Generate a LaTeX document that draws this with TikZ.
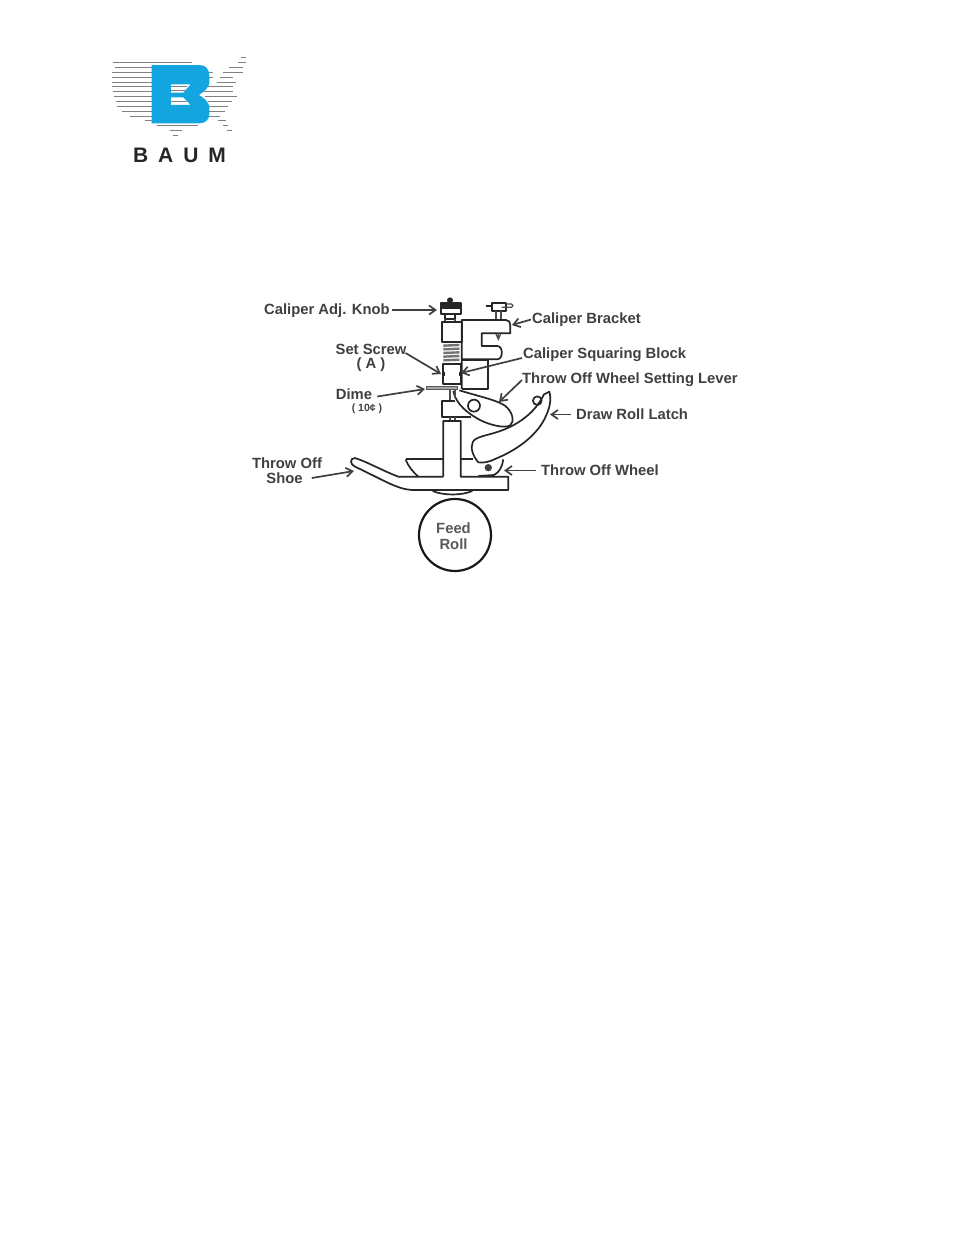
\documentclass[tikz,border=0pt]{standalone}
\usepackage{fontspec}
\setmainfont{Liberation Sans}
\usetikzlibrary{arrows.meta}
\definecolor{labelgray}{HTML}{404040}
\definecolor{baumblue}{HTML}{12A5E0}
\tikzset{
  lbl/.style={inner sep=0pt,text height=10.7pt,text depth=0pt,font=\fontsize{14.8}{16}\selectfont\bfseries,text=labelgray},
  sml/.style={inner sep=0pt,text height=7.6pt,text depth=0pt,font=\fontsize{10.5}{11}\selectfont\bfseries,text=labelgray},
  pointer/.style={draw=labelgray,line width=1.7pt,-{Straight Barb[length=6.5pt,width=9pt,line width=1.7pt]}},
  part/.style={draw=black!85,line width=1.7pt,line join=round},
  thin part/.style={draw=black!70,line width=1.2pt},
  stripe/.style={draw=black!50,line width=1pt},
}
\begin{document}
\begin{tikzpicture}[x=1pt,y=-1pt]
\useasboundingbox[fill=white] (0,0) rectangle (954,1235);
% ---- logo
\begin{scope}[shift={(100,50)},x=.3333pt,y=-.3333pt]
 \foreach \yy/\a/\b in {37/40/275,52/45/155,67/37/155,82/37/155,97/37/155,110/37/155,125/40/155,140/43/155,155/48/155,170/50/155,185/65/155,200/90/155,213/135/155,228/170/295,243/210/245,258/218/235,
  22/423/438,37/415/438,52/388/428,67/370/430,82/360/400,97/350/408,110/315/400,125/300/400,140/315/410,155/325/395,170/328/385,185/328/375,200/328/360,213/355/378,228/370/385,243/380/395,52/300/315,67/320/340,82/328/340}
  \draw[stripe] (\a,\yy) -- (\b,\yy);
 \fill[baumblue,even odd rule] (155,45) -- (298,45) .. controls (318,45) and (328,58) .. (328,78) -- (328,98) .. controls (328,112) and (312,125) .. (297,135) .. controls (312,145) and (328,155) .. (328,172) -- (328,192) .. controls (328,210) and (315,220) .. (298,220) -- (155,220) -- cycle
  (213,103) -- (272,103) -- (250,128) -- (213,128) -- cycle
  (213,142) -- (250,142) -- (272,165) -- (213,165) -- cycle;
 \foreach \yy/\a/\b in {110/213/262,120/213/254,155/213/262}
  \draw[stripe] (\a,\yy) -- (\b,\yy);
\end{scope}
\node[inner sep=0pt,font=\fontsize{21}{22}\selectfont\bfseries,text=black!85] (baum) at (179.5,155.5) {B\hspace{10pt}A\hspace{10pt}U\hspace{10pt}M};
% ---- upper mechanism
\begin{scope}[shift={(400,290)},x=.3333pt,y=-.3333pt]
 \fill[black!85] (150,31) circle (9);
 \draw[part,fill=black!85] (122,38) rectangle (182,50);
 \draw[part] (122,55) rectangle (182,72);
 \draw[part] (122,50) -- (122,55) (182,50) -- (182,55);
 \draw[part] (135,72) rectangle (165,88);
 \draw[thin part] (135,88) -- (135,95) (165,88) -- (165,95);
 \draw[part] (125,95) rectangle (185,155);
 \foreach \yy in {167,178,189,200,211}
  \draw[draw=black!55,line width=2.4pt] (130,\yy) -- (178,\yy-2);
 \draw[part] (128,222) rectangle (183,283);
 \fill[black!85] (128,245) rectangle (135,258);
 \fill[black!85] (178,245) rectangle (184,258);
 \draw[part] (185,297) -- (185,90) -- (318,90) .. controls (327,90) and (331,97) .. (331,106) -- (331,130) -- (245,130) -- (245,168) -- (292,168) .. controls (310,168) and (310,208) .. (292,208) -- (185,208);
 \draw[part] (185,210) -- (265,210) -- (265,297) -- (185,297);
 \draw[thin part] (295,130) -- (295,148) (288,132) -- (295,148) -- (302,132);
 % small top knob
 \draw[part] (275,38) rectangle (318,62);
 \draw[part] (257,47) -- (275,47);
 \draw[thin part] (318,42) -- (335,42) .. controls (340,42) and (340,52) .. (335,52) -- (305,52);
 \draw[thin part] (288,62) -- (288,88) (303,62) -- (303,88);
 % dime
 \draw[draw=black!65,line width=.9pt,fill=black!35] (80,288) rectangle (172,298);
\end{scope}
% ---- lower mechanism
\begin{scope}[shift={(340,385)},x=.3333pt,y=-.3333pt]
 % lever
 \draw[part,fill=white] (340,18) .. controls (345,45) and (365,75) .. (420,105) .. controls (450,120) and (490,130) .. (510,122) .. controls (525,110) and (518,80) .. (495,62) .. controls (470,45) and (420,35) .. (358,16);
 \draw[thin part] (330,15) -- (330,47) (345,15) -- (345,38);
 \draw[part] (345,47) -- (307,47) -- (307,95) -- (392,95);
 \draw[part,fill=white] (402,62) circle (18);
 \draw[thin part] (330,95) -- (330,108) (345,95) -- (345,108);
 % cradle and post
 \draw[part] (197,223) .. controls (205,245) and (220,262) .. (235,275);
 \draw[part] (197,223) -- (310,223) (362,223) -- (400,223);
 \draw[part] (490,223) .. controls (487,245) and (478,262) .. (462,270) -- (415,273);
 \draw[part] (310,275) -- (310,108) -- (362,108) -- (362,275) -- (505,275) -- (505,315) -- (215,315)
   .. controls (170,312) and (130,285) .. (45,245) .. controls (30,238) and (28,220) .. (45,219) .. controls (80,230) and (130,258) .. (175,275) -- (310,275);
 \draw[part] (278,318) .. controls (310,332) and (365,332) .. (397,318);
 % latch
 \draw[part,fill=white] (415,232) .. controls (400,215) and (390,190) .. (398,172) .. controls (405,155) and (440,152) .. (475,140) .. controls (530,122) and (585,85) .. (612,28) -- (628,20) .. controls (635,45) and (630,70) .. (612,105) .. controls (585,155) and (530,195) .. (470,220) .. controls (450,230) and (430,235) .. (415,232) -- cycle;
 \draw[part] (592,47) circle (13);
 \fill[black!75] (445,248) circle (11);
 % feed roll
 \draw[draw=black!90,line width=2.2pt] (345,450) circle (108);
\end{scope}
% ---- labels
\node[lbl,anchor=west] (knob) at (264,309.5) {Caliper Adj. Knob};
\node[lbl,anchor=west] (bracket) at (532,318.5) {Caliper Bracket};
\node[lbl] (setscrew) at (371,349) {Set Screw};
\node[lbl] (setA) at (371,363) {( A )};
\node[lbl,anchor=west] (block) at (523,353) {Caliper Squaring Block};
\node[lbl,anchor=west] (lever) at (522,378) {Throw Off Wheel Setting Lever};
\node[lbl] (dime) at (354,394.5) {Dime};
\node[sml] (ten) at (367,407.5) {( 10¢ )};
\node[lbl,anchor=west] (latch) at (576,414.5) {Draw Roll Latch};
\node[lbl,anchor=west] (wheel) at (541,470.5) {Throw Off Wheel};
\node[lbl] (shoe1) at (287,463) {Throw Off};
\node[lbl] (shoe2) at (284.5,478) {Shoe};
\node[lbl,text=black!65] (feed) at (453.5,528) {Feed};
\node[lbl,text=black!65] (roll) at (453.5,544) {Roll};
% ---- pointer ends
\coordinate (pknob) at (437,310);
\coordinate (pbracket) at (512,325);
\coordinate (pset) at (441,374);
\coordinate (pblock) at (461,373);
\coordinate (plever) at (499,402);
\coordinate (pdime) at (425,389);
\coordinate (platch) at (550,414.5);
\coordinate (pwheel) at (504,470.5);
\coordinate (pshoe) at (354,471);
% ---- pointers
\draw[pointer] (knob.east) ++(2,0.5) -- (pknob);
\draw[pointer] (bracket.west) ++(-1,1) -- (pbracket);
\draw[pointer] (setscrew.east) ++(-1,4) -- (pset);
\draw[pointer] (block.west) ++(-1,5) -- (pblock);
\draw[pointer] (lever.west) ++(0,2) -- (plever);
\draw[pointer] (dime.east) ++(5,2) -- (pdime);
\draw[pointer] (latch.west) ++(-5,0) -- (platch);
\draw[pointer] (wheel.west) ++(-5,0) -- (pwheel);
\draw[pointer] (shoe2.east) ++(9,0) -- (pshoe);
\end{tikzpicture}
\end{document}
